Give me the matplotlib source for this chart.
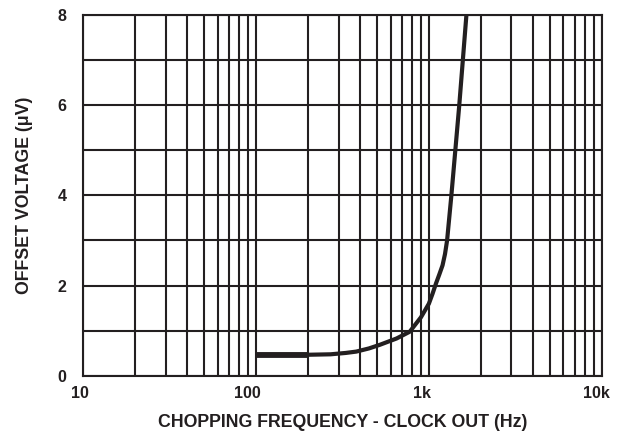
import matplotlib
matplotlib.use("Agg")
import matplotlib.pyplot as plt
import matplotlib.transforms as mtransforms
from matplotlib.ticker import FixedLocator, NullFormatter, LogLocator

plt.rcParams['font.family'] = ['Liberation Sans', 'DejaVu Sans']

# Data
freq_hz = [100, 200, 270, 330, 380, 450, 520, 650, 775, 900, 1000, 1050, 1100, 1150, 1200, 1240, 1275, 1350, 1500, 1650, 1700]
offset_uv = [0.47, 0.47, 0.48, 0.51, 0.54, 0.61, 0.69, 0.83, 0.98, 1.30, 1.60, 1.82, 2.05, 2.25, 2.45, 2.70, 3.00, 4.00, 6.00, 8.00, 8.50]

x_ticks = [10, 100, 1000, 10000]
x_ticklabels = ["10", "100", "1k", "10k"]
y_ticks = [0, 2, 4, 6, 8]
y_ticklabels = ["0", "2", "4", "6", "8"]

ink = "#231f20"

fig = plt.figure(figsize=(6.28, 4.40), dpi=100)
ax = fig.add_axes([0.1327, 0.1455, 0.8253, 0.8211])

ax.set_xscale("log")
ax.set_xlim(10, 10000)
ax.set_ylim(0, 8)

ax.xaxis.set_major_locator(FixedLocator(x_ticks))
ax.xaxis.set_minor_locator(LogLocator(base=10, subs=range(2, 10)))
ax.xaxis.set_minor_formatter(NullFormatter())
ax.set_xticks(x_ticks)
ax.set_xticklabels(x_ticklabels)
ax.set_yticks(y_ticks)
ax.set_yticklabels(y_ticklabels)
ax.set_yticks([1, 3, 5, 7], minor=True)

ax.grid(True, which="both", color=ink, linewidth=1.5)
ax.set_axisbelow(True)
ax.tick_params(which="both", length=0)
ax.tick_params(axis="x", pad=7, labelsize=11.5, colors=ink)
ax.tick_params(axis="y", pad=12, labelsize=11.5, colors=ink)
for lab in ax.get_xticklabels() + ax.get_yticklabels():
    lab.set_fontweight("bold")
# shift x tick labels slightly left, as in the reference
for lab, dx in zip(ax.get_xticklabels(), [-3, -9, -7, -5]):
    shift = mtransforms.ScaledTranslation(dx / 100, 0, fig.dpi_scale_trans)
    lab.set_transform(lab.get_transform() + shift)

for s in ax.spines.values():
    s.set_color(ink)
    s.set_linewidth(1.5)

ax.plot(freq_hz, offset_uv, color=ink, linewidth=3.0, solid_capstyle="butt",
        solid_joinstyle="round", clip_on=True)
ax.plot(freq_hz[:2], offset_uv[:2], color=ink, linewidth=4.2, solid_capstyle="butt")

ax.set_xlabel("CHOPPING FREQUENCY - CLOCK OUT (Hz)", fontsize=12.8, fontweight="bold", color=ink)
ax.xaxis.set_label_coords(0.5, -0.106)
ax.set_ylabel("OFFSET VOLTAGE (μV)", fontsize=12.8, fontweight="bold", color=ink)
ax.yaxis.set_label_coords(-0.097, 0.5)

fig.savefig("out.png", dpi=100)
